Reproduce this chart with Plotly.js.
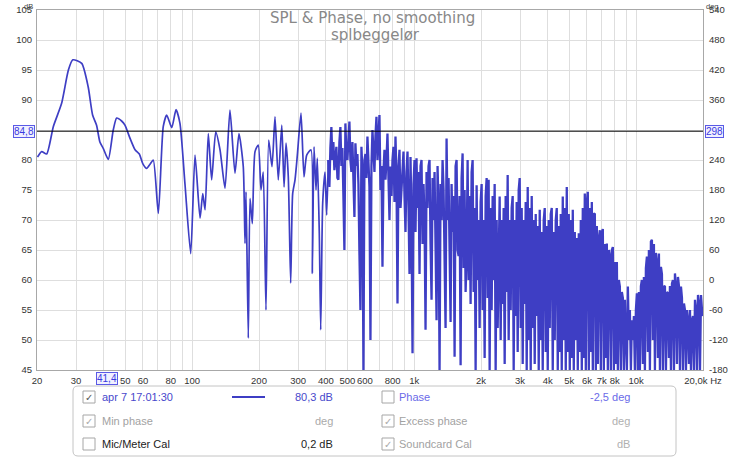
<!DOCTYPE html>
<html><head><meta charset="utf-8">
<script src="https://cdn.plot.ly/plotly-3.0.1.min.js"></script>
<style>html,body{margin:0;padding:0;background:#fff;}#chart{width:750px;height:458px;}</style>
</head><body><div id="chart"></div>
<script>
// ---- data ----
const lowHz = [20.1,21.0,22.1,23.7,25.8,27.7,29.0,31.8,34.0,35.6,37.1,38.4,39.8,41.9,44.1,45.7,48.1,49.8,52.5,55.3,57.8,59.9,62.4,64.6,66.8,70.4,74.1,76.8,80.9,84.6,88.1,92.8,98.5,103,108.5,111.6,114.3,118.2,122.4,127.7,133.5,140.6,148,155.9,162.5,169.9,173,174.8,179,182.2,186.6,191.9,198.5,204.2,209,215,221.2,228.9,236.1,244.3,253.3,259.4,264.7,271,277.8,283.6,290.6,297.7,309.2,319,328,343,347.8,353.9,361.3,366.2,373.8,379.3,387.2,396.6,403.6,410.4];
const lowDb = [80.5,81.4,81.0,85.6,89.4,95.0,96.7,96.1,92.2,87.5,85.8,83.0,81.9,80.1,85.0,87.0,86.5,85.8,83.6,81.7,81.0,79.4,78.6,79.3,80.0,71.1,85.6,87.5,85.4,88.4,86.1,76.0,64.4,80.8,70.3,74.4,71.7,84.4,76.7,84.7,81.7,75.3,88.3,77.8,84.4,78.9,66.1,74.7,50.3,73.6,69.4,81.4,82.5,75.0,78.0,55.0,83.3,78.9,87.2,76.7,85.8,75.5,82.8,77.2,59.5,74.4,76.7,80.8,87.8,77.2,80.8,81.7,61.1,82.2,75.0,80.3,67.8,51.7,72.8,78.0,70.8,80.0];
// dense part: one reading per screen pixel column, log-spaced from denseStartHz to denseEndHz
const denseStartHz = 415;
const denseEndHz = 20000;
const denseDb = [
75.5,82,85.5,80,83,78.3,81,82.2,77,76.7,
83,85.5,79,82,74,65,86.1,81,80,84,
86.4,80,78,83,76,70.5,82.8,79,81,76,
64.5,55,82.2,78,45,80,81,77,83.9,80,
75.5,50,79,85,80,78,84,87.2,80,83,
87.5,75,79,62.2,78,81.7,76.7,80,84.4,77,
70,78.9,74,80,82.2,73,83.9,77,56.1,79,
81.7,72,75,80,81.4,74,68,78,81.4,72,
61,80.5,70,47.8,76,80,68,80.3,72,78,
61,79,80,66,76,70,51.7,78,72,79,
80,66,56.7,77,70,78,68,53.3,79,72,
45,76,70,80,75,66,52,83.6,70,77,
63,53,76,68,74,47.2,79,80,65,64,
74,45.8,77,81.1,62,75,58,64,80,60,
74,56,78,80,58,72,45,75.8,60,70,
52,73,76,55,70,47,74,77,57,76.7,
45,72,55,74,60,76,45,70,52,68,
73.9,50,70,56,72,46,74,58,77.5,50,
70,55,72,74,45,70,54,73,48,75,
77,52,72,46,70,56,73,45,75.5,50,
72,45,74,52,70,46,71,54,69,45,
71.7,50,68,45,70,72,48,69,45,70,
52,71,72,45,68,50,70,72,45,69,
48,71,45,73.9,50,72,45,75.5,48,71,
45,70,47,71.7,45,68,50,67,45,67.8,
48,70,45,72,47,74.4,45,73,74.7,45,
72,48,73,45,71,71.1,45,69,46,67,
68.3,45,68,68.5,45,66,47,66.1,45,65,
64,45,65,65.5,45,63,46,63,45,60,
58.9,45,58,57,45,56.7,52,45,58.9,50,
55,45,53.3,50,54,45,55,57.8,45,58,
45,59,60,46,60.5,45,62,63.9,48,65,
45,66.4,66.7,50,66,45,64.5,63,47,64.4,
45,62.2,61,45,59,58.9,45,58,57.8,47,
59,45,59.4,60,45,61.1,59,46,60.5,59,
45,58.9,57,45,56.1,55,45,55,53.3,46,
55,45,53.3,54,45,56.7,55,45,57.5,56,
45,57.5,55,54];

const leftTicks = [45,50,55,60,65,70,75,80,85,90,95,100,105];
const leftTickText = ['45','50','55','60','65','70','75','80','','90','95','100','105'];
const rightTicks = [-180,-120,-60,0,60,120,180,240,300,360,420,480,540];
const rightTickText = ['-180','-120','-60','0','60','120','180','240','','360','420','480','540'];
const xTickVals = [20,30,40,50,60,70,80,90,100,200,300,400,500,600,700,800,900,1000,2000,3000,4000,5000,6000,7000,8000,9000,10000,20000];
const xTickText = ['20','30','','50','60','','80','','100','200','300','400','500','600','','800','','1k','2k','3k','4k','5k','6k','7k','8k','','10k','20,0k Hz'];
const decadeHz = [100,1000,10000];
const cursorHz = 41.4, cursorDb = 84.8, cursorDeg = 298;
const titleMain = 'SPL & Phase, no smoothing';
const titleSub = 'splbeggelør';
const legLeftNames = ['apr 7 17:01:30','Min phase','Mic/Meter Cal'];
const legLeftValues = ['80,3 dB','deg','0,2 dB'];
const legLeftChecked = [true,true,false];
const legRightNames = ['Phase','Excess phase','Soundcard Cal'];
const legRightValues = ['-2,5 deg','deg','dB'];
const legRightChecked = [false,true,true];

// ---- build ----
const n = denseDb.length;
const denseHz = denseDb.map((_, i) => denseStartHz * Math.pow(denseEndHz / denseStartHz, i / (n - 1)));

const BLUE = '#3e3ec4';
const L = 37, R = 703, T = 10, B = 370;
const px = x => (x - L) / (R - L);
const py = y => (B - y) / (B - T);
const FONT = 'Liberation Sans, Arial, sans-serif';

const traces = [
  {x: lowHz, y: lowDb, type: 'scatter', mode: 'lines', line: {color: BLUE, width: 1.7, shape: 'spline', smoothing: 0.6}, hoverinfo: 'skip'},
  {x: [lowHz[lowHz.length-1]].concat(denseHz), y: [lowDb[lowDb.length-1]].concat(denseDb), type: 'scatter', mode: 'lines', line: {color: BLUE, width: 2.3}, hoverinfo: 'skip'},
  {x: [1000], y: [0], yaxis: 'y2', type: 'scatter', mode: 'markers', marker: {opacity: 0}, hoverinfo: 'skip'}
];

const shapes = [];
decadeHz.forEach(h => shapes.push({type: 'line', xref: 'x', yref: 'paper', x0: Math.log10(h), x1: Math.log10(h), y0: 0, y1: 1, line: {color: '#b8b8b8', width: 1}, layer: 'below'}));
shapes.push({type: 'line', xref: 'x', yref: 'paper', x0: Math.log10(cursorHz), x1: Math.log10(cursorHz), y0: 0, y1: 1, line: {color: '#000', width: 1}});
shapes.push({type: 'line', xref: 'paper', yref: 'y', x0: 0, x1: 1, y0: cursorDb, y1: cursorDb, line: {color: '#000', width: 1}});

// legend panel
(function(){
  const x0 = px(73), x1 = px(676), y0 = py(456), y1 = py(386);
  const rx = 5 / (R - L), ry = 5 / (B - T);
  const p = `M ${x0+rx},${y1} L ${x1-rx},${y1} Q ${x1},${y1} ${x1},${y1-ry} L ${x1},${y0+ry} Q ${x1},${y0} ${x1-rx},${y0} L ${x0+rx},${y0} Q ${x0},${y0} ${x0},${y0+ry} L ${x0},${y1-ry} Q ${x0},${y1} ${x0+rx},${y1} Z`;
  shapes.push({type: 'path', xref: 'paper', yref: 'paper', path: p, line: {color: '#c4c4c4', width: 1}, fillcolor: '#ffffff'});
})();
const rowY = [397, 421, 444];
const annotations = [];
function box(cx, cy, checked, col){
  shapes.push({type: 'rect', xref: 'paper', yref: 'paper', x0: px(cx-6), x1: px(cx+6), y0: py(cy+6), y1: py(cy-6), line: {color: '#a6a6a6', width: 1}, fillcolor: '#fff'});
  if (checked) annotations.push({xref: 'paper', yref: 'paper', x: px(cx), y: py(cy), text: '✓', showarrow: false, font: {family: 'DejaVu Sans', size: 10, color: col}, xanchor: 'center', yanchor: 'middle'});
}
rowY.forEach((yy, i) => {
  box(89, yy, legLeftChecked[i], i === 0 ? '#555' : '#aaa');
  box(388, yy, legRightChecked[i], '#aaa');
  const lc = i === 0 ? '#4848cc' : (i === 1 ? '#a2a2a2' : '#222');
  const lv = i === 0 ? '#4848cc' : (i === 1 ? '#aaaaaa' : '#222');
  annotations.push({xref: 'paper', yref: 'paper', x: px(100), y: py(yy), text: legLeftNames[i], showarrow: false, xanchor: 'left', yanchor: 'middle', font: {family: FONT, size: 11, color: lc}});
  annotations.push({xref: 'paper', yref: 'paper', x: px(335), y: py(yy), text: legLeftValues[i], showarrow: false, xanchor: 'right', yanchor: 'middle', font: {family: FONT, size: 11, color: lv}});
  const rc = i === 0 ? '#6a6ae8' : '#a2a2a2';
  const rv = i === 0 ? '#6a6ae8' : '#b0b0b0';
  annotations.push({xref: 'paper', yref: 'paper', x: px(397), y: py(yy), text: legRightNames[i], showarrow: false, xanchor: 'left', yanchor: 'middle', font: {family: FONT, size: 11, color: rc}});
  annotations.push({xref: 'paper', yref: 'paper', x: px(632), y: py(yy), text: legRightValues[i], showarrow: false, xanchor: 'right', yanchor: 'middle', font: {family: FONT, size: 11, color: rv}});
});
shapes.push({type: 'line', xref: 'paper', yref: 'paper', x0: px(232), x1: px(265), y0: py(rowY[0]), y1: py(rowY[0]), line: {color: BLUE, width: 2}});

// titles
annotations.push({xref: 'paper', yref: 'paper', x: px(373), y: py(18), text: titleMain, showarrow: false, xanchor: 'center', yanchor: 'middle', font: {family: 'DejaVu Sans', size: 15, color: '#888888'}});
annotations.push({xref: 'paper', yref: 'paper', x: px(375), y: py(35), text: titleSub, showarrow: false, xanchor: 'center', yanchor: 'middle', font: {family: 'DejaVu Sans', size: 15, color: '#888888'}});
// units
annotations.push({xref: 'paper', yref: 'paper', x: px(28), y: py(0), text: 'dB', showarrow: false, xanchor: 'center', yanchor: 'top', font: {family: FONT, size: 7.5, color: '#444'}});
annotations.push({xref: 'paper', yref: 'paper', x: px(712), y: py(0), text: 'deg', showarrow: false, xanchor: 'center', yanchor: 'top', font: {family: FONT, size: 7.5, color: '#444'}});
// cursor readouts
const cur = {bordercolor: '#5a5ae6', borderwidth: 1, borderpad: 0, bgcolor: '#f0f0ff', showarrow: false, font: {family: FONT, size: 10, color: '#3a3ae0'}};
annotations.push(Object.assign({}, cur, {xref: 'paper', yref: 'y', x: px(35), y: cursorDb, text: String(cursorDb).replace('.', ','), xanchor: 'right', yanchor: 'middle'}));
annotations.push(Object.assign({}, cur, {xref: 'paper', yref: 'y', x: px(705), y: cursorDb, text: String(cursorDeg), xanchor: 'left', yanchor: 'middle'}));
annotations.push(Object.assign({}, cur, {xref: 'x', yref: 'paper', x: Math.log10(cursorHz), y: py(379), text: String(cursorHz).replace('.', ','), xanchor: 'center', yanchor: 'middle'}));

const layout = {
  width: 750, height: 458,
  margin: {l: L, r: 750 - R, t: T, b: 458 - B, pad: 0},
  paper_bgcolor: '#fff', plot_bgcolor: '#fff',
  showlegend: false,
  xaxis: {type: 'log', range: [Math.log10(20), Math.log10(20000)], tickvals: xTickVals, ticktext: xTickText, tickangle: 0,
    showgrid: true, gridcolor: '#dedede', gridwidth: 1, zeroline: false, showline: true, linecolor: '#a8a8a8', mirror: true,
    ticks: '', ticklabelstandoff: 2, tickfont: {family: FONT, size: 9.5, color: '#333'}},
  yaxis: {range: [45, 105], tickvals: leftTicks, ticktext: leftTickText, showgrid: true, gridcolor: '#dedede', gridwidth: 1, zeroline: false,
    showline: true, linecolor: '#a8a8a8', ticks: '', ticklabelstandoff: 2, tickfont: {family: FONT, size: 9.5, color: '#333'}},
  yaxis2: {range: [-180, 540], tickvals: rightTicks, ticktext: rightTickText, overlaying: 'y', side: 'right', showgrid: false, zeroline: false,
    showline: true, linecolor: '#a8a8a8', ticks: '', ticklabelstandoff: 3, tickfont: {family: FONT, size: 9.5, color: '#333'}},
  shapes: shapes,
  annotations: annotations
};
Plotly.newPlot('chart', traces, layout, {staticPlot: true, displayModeBar: false});
</script>
</body></html>
